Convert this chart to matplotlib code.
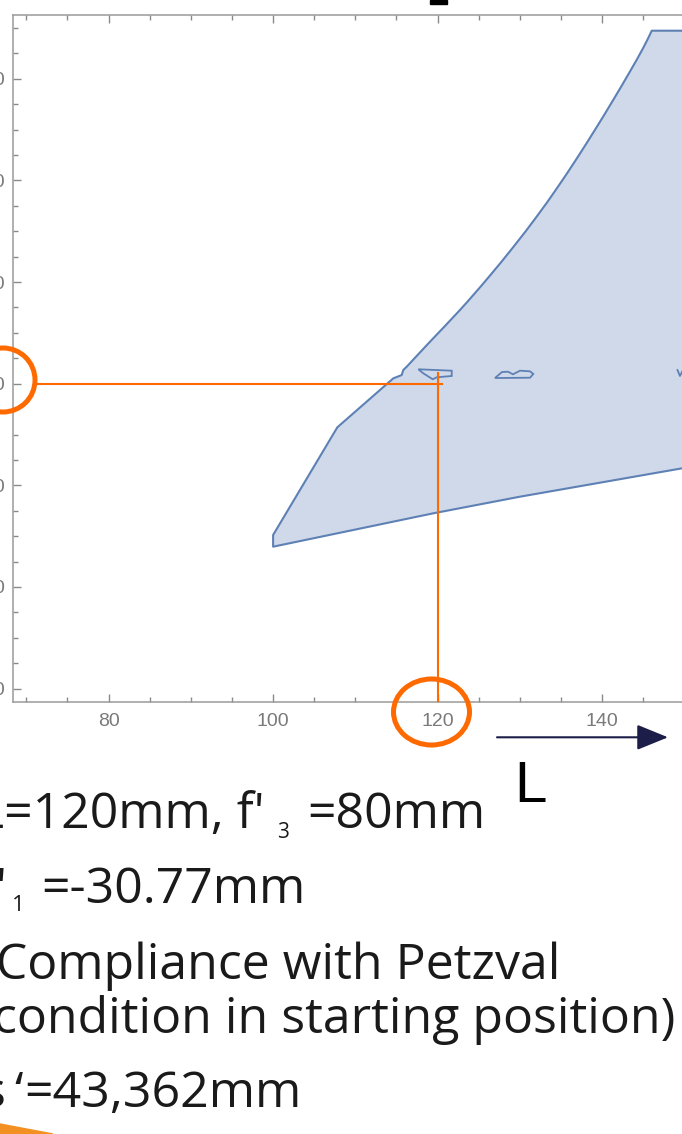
import matplotlib
matplotlib.use('Agg')
import matplotlib.pyplot as plt
from matplotlib.patches import Polygon, Ellipse, FancyArrowPatch, Rectangle, PathPatch
from matplotlib.path import Path
from matplotlib.ticker import MultipleLocator

plt.rcParams['font.family'] = ['Liberation Sans', 'DejaVu Sans']

W, H = 682, 1134

# ---------------- data (L in mm on x, f' in mm on y) ----------------
# straight left part of the upper boundary
left_L = [100.0, 100.0, 107.81, 114.62, 115.35, 115.64, 115.83, 116.25]
left_f = [47.93, 50.23, 71.42, 81.06, 81.52, 81.71, 82.70, 83.35]
# smooth curved part of the upper boundary
curve_L = [116.25, 119.08, 122.73, 125.97, 129.21, 132.05, 134.48, 136.92,
           139.35, 141.37, 143.40, 145.02, 146.04]
curve_f = [83.35, 88.27, 94.52, 100.51, 106.90, 112.88, 118.39, 124.30,
           130.51, 135.87, 141.45, 146.12, 149.46]
# flat top and lower boundary (right to left)
right_L = [156.0, 156.0, 149.72, 130.02, 119.48, 100.0]
right_f = [149.46, 65.10, 63.35, 57.77, 54.50, 47.93]

blob1_L = [117.66, 121.72, 121.72, 119.89, 119.41, 118.26]
blob1_f = [82.84, 82.56, 81.52, 81.26, 80.87, 82.05]
blob2_L = [126.98, 127.83, 128.56, 129.17, 130.02, 131.24, 131.64, 131.24]
blob2_f = [81.12, 82.30, 82.36, 81.85, 82.56, 82.44, 81.91, 81.18]
blob3_L = [149.17, 149.47, 149.84]
blob3_f = [82.70, 81.52, 82.70]

sel_L = 120.0
sel_f = 80.0

x_major = 20
x_minor = 5
y_major = 20
y_minor = 5
xlim = (68.41, 149.72)
ylim = (17.43, 152.55)

line1 = ("L=120mm, f'", "3", "=80mm")
line2 = ("f'", "1", "=-30.77mm")
line3 = "(Compliance with Petzval"
line4 = "condition in starting position)"
line5 = ("s", "\u2018", "=43,362mm")
axis_letter = "L"

# ---------------- helpers ----------------
def fx(p):
    return p / W

def fy(p):
    return 1 - p / H

fig = plt.figure(figsize=(W / 100, H / 100), dpi=100)
fig.patch.set_facecolor('white')

ax = fig.add_axes([fx(13.3), fy(701.7), 1 - fx(13.3), fy(15) - fy(701.7)])
ax.set_xlim(*xlim)
ax.set_ylim(*ylim)

# region outline as a path: straight pieces + smooth (Bezier) upper curve
verts = [(left_L[0], left_f[0])]
codes = [Path.MOVETO]
for xv, yv in zip(left_L[1:], left_f[1:]):
    verts.append((xv, yv)); codes.append(Path.LINETO)
P = list(zip(curve_L, curve_f))
n = len(P)
for i in range(n - 1):
    p0 = P[i - 1] if i > 0 else P[i]
    p1 = P[i]
    p2 = P[i + 1]
    p3 = P[i + 2] if i + 2 < n else P[i + 1]
    c1 = (p1[0] + (p2[0] - p0[0]) / 6, p1[1] + (p2[1] - p0[1]) / 6)
    c2 = (p2[0] - (p3[0] - p1[0]) / 6, p2[1] - (p3[1] - p1[1]) / 6)
    verts += [c1, c2, p2]
    codes += [Path.CURVE4] * 3
for xv, yv in zip(right_L, right_f):
    verts.append((xv, yv)); codes.append(Path.LINETO)
verts.append((left_L[0], left_f[0])); codes.append(Path.CLOSEPOLY)

fill_c = '#cfd9e9'
edge_c = '#5e81b5'
ax.add_patch(PathPatch(Path(verts, codes), facecolor=fill_c, edgecolor=edge_c,
                       linewidth=1.5, joinstyle='round', zorder=2))
ax.add_patch(Polygon(list(zip(blob1_L, blob1_f)), closed=True, facecolor=fill_c,
                     edgecolor=edge_c, linewidth=1.3, zorder=3))
ax.add_patch(Polygon(list(zip(blob2_L, blob2_f)), closed=True, facecolor=fill_c,
                     edgecolor=edge_c, linewidth=1.3, zorder=3))
ax.plot(blob3_L, blob3_f, color=edge_c, lw=1.3, zorder=3)

# orange guide lines
orange = '#ff6a00'
ax.plot([71.05, 120.7], [sel_f, sel_f], color=orange, lw=1.5, zorder=4,
        solid_capstyle='butt')
ax.plot([sel_L, sel_L], [82.3, ylim[0]], color=orange, lw=1.5, zorder=4,
        solid_capstyle='butt')

# axes styling
ax.xaxis.set_major_locator(MultipleLocator(x_major))
ax.xaxis.set_minor_locator(MultipleLocator(x_minor))
ax.yaxis.set_major_locator(MultipleLocator(y_major))
ax.yaxis.set_minor_locator(MultipleLocator(y_minor))
spine_c = '#9a9a9a'
for s in ['left', 'top', 'bottom']:
    ax.spines[s].set_color(spine_c)
    ax.spines[s].set_linewidth(1.1)
ax.spines['right'].set_visible(False)
ax.tick_params(which='both', direction='in', top=True, right=False,
               color='#8a8a8a', width=1.0, labelcolor='#7a7a7a', labelsize=14)
ax.tick_params(which='major', length=6)
ax.tick_params(which='minor', length=3.6)
ax.tick_params(axis='x', pad=8)
ax.tick_params(axis='y', pad=6)

# circles around values
fig.add_artist(Ellipse((fx(3), fy(380)), 2 * 32 / W, 2 * 32 / H, fill=False,
                       edgecolor=orange, lw=3.6, transform=fig.transFigure))
fig.add_artist(Ellipse((fx(431.5), fy(712)), 2 * 38 / W, 2 * 33 / H, fill=False,
                       edgecolor=orange, lw=3.6, transform=fig.transFigure))

# arrow
fig.add_artist(FancyArrowPatch((fx(497), fy(737.3)), (fx(668), fy(737.3)),
                               transform=fig.transFigure,
                               arrowstyle='-|>,head_length=19.4,head_width=7.9',
                               mutation_scale=1, color='#1c1d48', lw=1.5,
                               shrinkA=0, shrinkB=0))
fig.text(fx(514), fy(801.7), axis_letter, fontsize=42, family='Liberation Sans',
         color='black', va='baseline', ha='left')

# top fragment and orange wedge
fig.add_artist(Rectangle((fx(430), fy(3.5)), 17 / W, 3.5 / H, color='black',
                         transform=fig.transFigure))
fig.add_artist(Polygon([(fx(0), fy(1124)), (fx(53), fy(1134)), (fx(0), fy(1134))],
                       closed=True, color='#f39022', transform=fig.transFigure))

# texts
tf = 'Open Sans'
tc = '#1a1a1a'
fs = 36

def t(x, y, s, size=fs, ha='left'):
    fig.text(fx(x), fy(y), s, fontsize=size, family=tf, color=tc,
             va='baseline', ha=ha)

t(-22, 828, line1[0])
t(277, 838, line1[1], size=15)
t(307, 828, line1[2])

t(-21, 903, line2[0])
t(12, 911, line2[1], size=16)
t(41, 903, line2[2])

t(-19, 979, line3)
t(-7, 1033, line4)

t(5, 1107, line5[0], ha='right')
t(14, 1107, line5[1])
t(24, 1107, line5[2])

fig.savefig('out.png', dpi=100)
